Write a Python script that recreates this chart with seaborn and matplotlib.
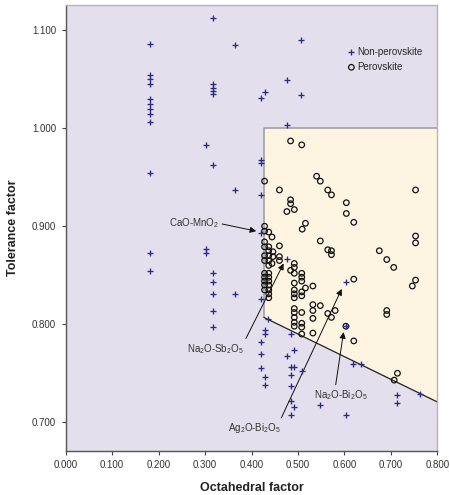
import matplotlib
matplotlib.use("Agg")
import matplotlib.pyplot as plt
import numpy as np
import pandas as pd
import seaborn as sns

# Octahedral factor (x) and tolerance factor (t) of the A-B oxide systems
non_perov_x = [0.182, 0.182, 0.182, 0.182, 0.182, 0.182, 0.182, 0.182, 0.182, 0.182, 0.182, 0.182,
               0.302, 0.302, 0.302,
               0.317, 0.317, 0.317, 0.317, 0.317, 0.317, 0.317, 0.317, 0.317, 0.317, 0.317,
               0.365, 0.365, 0.365,
               0.421, 0.421, 0.421, 0.421, 0.421, 0.421, 0.421, 0.421, 0.421,
               0.428, 0.428, 0.428, 0.428, 0.428,
               0.436,
               0.476, 0.476, 0.476, 0.476,
               0.484, 0.484, 0.484, 0.484, 0.484, 0.484,
               0.492, 0.492, 0.492,
               0.507, 0.507,
               0.509, 0.547,
               0.603, 0.603, 0.603,
               0.619, 0.635,
               0.714, 0.714, 0.762]
non_perov_t = [1.086, 1.054, 1.050, 1.045, 1.030, 1.025, 1.020, 1.015, 1.006, 0.954, 0.873, 0.854,
               0.983, 0.877, 0.873,
               1.112, 1.045, 1.041, 1.038, 1.035, 0.962, 0.852, 0.843, 0.831, 0.814, 0.797,
               1.085, 0.937, 0.831,
               1.031, 0.968, 0.964, 0.932, 0.893, 0.826, 0.782, 0.770, 0.755,
               1.037, 0.794, 0.790, 0.746, 0.738,
               0.805,
               1.049, 1.003, 0.867, 0.768,
               0.790, 0.756, 0.748, 0.737, 0.722, 0.707,
               0.774, 0.756, 0.716,
               1.090, 1.034,
               0.752, 0.718,
               0.843, 0.798, 0.707,
               0.759, 0.759,
               0.728, 0.720, 0.729]

perov_x = [0.484, 0.508, 0.428, 0.540, 0.548, 0.460, 0.564, 0.572, 0.604, 0.604, 0.620, 0.753,
           0.484, 0.484, 0.492, 0.476, 0.516, 0.509, 0.548, 0.564, 0.572, 0.572, 0.675, 0.691,
           0.706, 0.753, 0.753, 0.753, 0.746, 0.620, 0.691, 0.691, 0.620, 0.714, 0.707, 0.603,
           0.428, 0.428, 0.437, 0.444, 0.428, 0.428, 0.437, 0.437, 0.446, 0.428, 0.437, 0.446,
           0.428, 0.437, 0.437, 0.460, 0.460, 0.460,
           0.428, 0.428, 0.428, 0.428, 0.428, 0.437, 0.437, 0.437, 0.437, 0.437, 0.437, 0.437, 0.444,
           0.484, 0.492, 0.492, 0.492, 0.492, 0.492, 0.492, 0.492, 0.492, 0.492, 0.492, 0.492, 0.492,
           0.508, 0.508, 0.508, 0.508, 0.508, 0.508, 0.508, 0.508, 0.508,
           0.516, 0.532, 0.532, 0.548, 0.532, 0.532, 0.532, 0.564, 0.572, 0.580]
perov_t = [0.987, 0.983, 0.946, 0.951, 0.946, 0.937, 0.937, 0.932, 0.924, 0.913, 0.904, 0.937,
           0.927, 0.923, 0.917, 0.915, 0.903, 0.897, 0.885, 0.876, 0.875, 0.871, 0.875, 0.866,
           0.858, 0.890, 0.883, 0.845, 0.839, 0.846, 0.814, 0.810, 0.783, 0.750, 0.743, 0.798,
           0.900, 0.895, 0.894, 0.889, 0.884, 0.879, 0.879, 0.875, 0.874, 0.870, 0.870, 0.869,
           0.865, 0.865, 0.860, 0.880, 0.869, 0.865,
           0.852, 0.848, 0.844, 0.840, 0.835, 0.852, 0.848, 0.844, 0.840, 0.835, 0.831, 0.827, 0.862,
           0.855, 0.862, 0.858, 0.852, 0.842, 0.835, 0.831, 0.827, 0.816, 0.812, 0.807, 0.802, 0.798,
           0.852, 0.848, 0.844, 0.833, 0.829, 0.812, 0.801, 0.797, 0.790,
           0.837, 0.839, 0.820, 0.819, 0.814, 0.806, 0.791, 0.811, 0.807, 0.814]

# Boundary of the perovskite formability region
region_x = [0.4266, 0.800, 0.800, 0.4266]
region_t = [1.000, 1.000, 0.7207, 0.807]

x_ticks = [0.0, 0.1, 0.2, 0.3, 0.4, 0.5, 0.6, 0.7, 0.8]
y_ticks = [0.7, 0.8, 0.9, 1.0, 1.1]

sns.set_style("ticks")
plt.rcParams["font.family"] = ["Liberation Sans", "DejaVu Sans"]
plt.rcParams["mathtext.fontset"] = "custom"
plt.rcParams["mathtext.rm"] = "Liberation Sans"
plt.rcParams["mathtext.it"] = "Liberation Sans"

fig = plt.figure(figsize=(4.5, 4.95), dpi=100)
ax = fig.add_axes([0.146, 0.0895, 0.826, 0.901])
ax.set_facecolor("#E3DFEC")

# formability region
ax.fill(region_x, region_t, color="#FDF5E2", zorder=0.5, lw=0)
ax.plot([region_x[3], region_x[0], region_x[1]], [region_t[3], region_t[0], region_t[1]],
        color="#9A9A9A", lw=1.1, zorder=0.6)
ax.plot([region_x[3], region_x[2]], [region_t[3], region_t[2]], color="#222222", lw=0.9, zorder=0.6)

df_non = pd.DataFrame({"octahedral": non_perov_x, "tolerance": non_perov_t})
df_per = pd.DataFrame({"octahedral": perov_x, "tolerance": perov_t})

sns.scatterplot(data=df_per, x="octahedral", y="tolerance", marker="o", s=16,
                facecolor="none", edgecolor="#111111", linewidth=0.9, ax=ax,
                label="Perovskite", zorder=3)
sns.scatterplot(data=df_non, x="octahedral", y="tolerance", marker="+", s=24,
                color="#2A2A8C", linewidth=0.95, ax=ax, label="Non-perovskite", zorder=4)

ax.set_xlim(0.0, 0.8)
ax.set_ylim(0.671, 1.126)
ax.set_xticks(x_ticks)
ax.set_yticks(y_ticks)
ax.set_xticklabels([f"{v:.3f}" for v in x_ticks])
ax.set_yticklabels([f"{v:.3f}" for v in y_ticks])
ax.tick_params(axis="both", labelsize=7.0, length=3, width=0.8, color="#444444",
               labelcolor="#333333", pad=4)

for side in ["left", "bottom"]:
    ax.spines[side].set_color("#555555")
    ax.spines[side].set_linewidth(1.0)
for side in ["top", "right"]:
    ax.spines[side].set_color("#B5B5B5")
    ax.spines[side].set_linewidth(1.0)

ax.set_xlabel("Octahedral factor", fontsize=9, fontweight="bold", color="#222222")
ax.set_ylabel("Tolerance factor", fontsize=9, fontweight="bold", color="#222222")
ax.xaxis.set_label_coords(0.5, -0.07)
ax.yaxis.set_label_coords(-0.125, 0.5)

handles, labels = ax.get_legend_handles_labels()
order = [labels.index("Non-perovskite"), labels.index("Perovskite")]
ax.legend([handles[i] for i in order], [labels[i] for i in order],
          loc="upper left", bbox_to_anchor=(0.745, 0.915), frameon=False,
          fontsize=7.0, handletextpad=0.1, handlelength=1.0, labelspacing=0.55,
          borderaxespad=0)

arrow = dict(arrowstyle="-|>", color="#111111", lw=0.7, mutation_scale=9,
             shrinkA=0, shrinkB=0)
txt = dict(fontsize=7.0, color="#333333", va="center")
ax.annotate("CaO-MnO$_2$", xy=(0.410, 0.895), xytext=(0.222, 0.903),
            ha="left", arrowprops=dict(arrow, relpos=(1.0, 0.5)), **txt)
ax.annotate("Na$_2$O-Sb$_2$O$_5$", xy=(0.469, 0.862), xytext=(0.262, 0.775),
            ha="left", arrowprops=dict(arrow, relpos=(1.0, 1.0)), **txt)
ax.annotate("Ag$_2$O-Bi$_2$O$_5$", xy=(0.594, 0.836), xytext=(0.350, 0.694),
            ha="left", arrowprops=dict(arrow, relpos=(0.97, 1.0)), **txt)
ax.annotate("Na$_2$O-Bi$_2$O$_5$", xy=(0.598, 0.792), xytext=(0.534, 0.728),
            ha="left", arrowprops=dict(arrow, relpos=(0.4, 1.0)), **txt)

fig.savefig("out.png", dpi=100)
